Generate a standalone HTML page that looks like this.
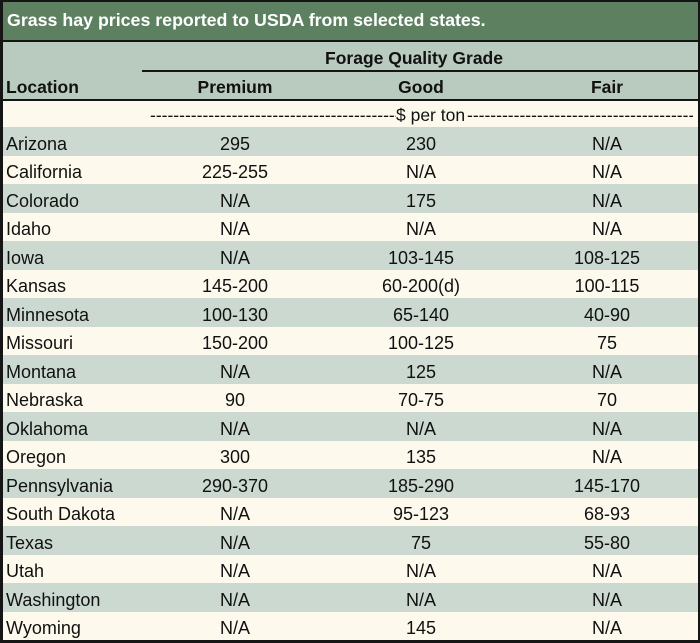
<!DOCTYPE html>
<html>
<head>
<meta charset="utf-8">
<style>
  html, body { margin:0; padding:0; }
  body { width:700px; height:643px; position:relative; overflow:hidden; background:#fdfaed;
         font-family:"Liberation Sans", Arial, sans-serif; color:#111; }
  .abs { position:absolute; }
  .title { left:0; top:0; width:700px; height:41px; background:#5d8061; }
  .title span { position:absolute; left:7px; top:9px; font-size:17.8px; font-weight:bold; color:#fff; line-height:22px; white-space:nowrap; }
  .hdr { left:0; top:42px; width:700px; height:58px; background:#b9cbbe; }
  .line { background:#151515; }
  .hb { font-weight:bold; font-size:17.5px; line-height:22px; white-space:nowrap; position:absolute; }
  .row { position:absolute; left:0; width:700px; height:28.5px; }
  .g { background:#cbd9d1; }
  .c { background:#fdfaed; }
  .cell { position:absolute; top:0; height:28.5px; line-height:28.5px; padding-top:2.5px; box-sizing:border-box; font-size:18px; white-space:nowrap; }
  .loc { left:6px; }
  .p { left:155px; width:160px; text-align:center; }
  .gd { left:341px; width:160px; text-align:center; }
  .f { left:527px; width:160px; text-align:center; }
  .dash { position:absolute; top:102px; height:26px; line-height:26px; font-size:17.5px; overflow:hidden; white-space:nowrap; }
</style>
</head>
<body>
  <div class="abs title"><span>Grass hay prices reported to USDA from selected states.</span></div>
  <div class="abs line" style="left:0;top:40px;width:700px;height:2px;"></div>
  <div class="abs hdr"></div>
  <div class="abs line" style="left:142px;top:70px;width:558px;height:2px;"></div>
  <div class="hb" style="left:314px;top:47px;width:200px;text-align:center;">Forage Quality Grade</div>
  <div class="hb" style="left:6px;top:76px;">Location</div>
  <div class="hb" style="left:155px;top:76px;width:160px;text-align:center;">Premium</div>
  <div class="hb" style="left:341px;top:76px;width:160px;text-align:center;">Good</div>
  <div class="hb" style="left:527px;top:76px;width:160px;text-align:center;">Fair</div>
  <div class="abs line" style="left:0;top:99px;width:700px;height:2px;"></div>

  <div class="abs" style="left:0;top:101px;width:700px;height:26px;background:#fdfaed;"></div>
  <div class="dash" style="left:150px;width:246px;">----------------------------------------------------------------------------------</div>
  <div class="dash" style="left:396px;width:72px;">$ per ton</div>
  <div class="dash" style="left:467px;width:226px;">----------------------------------------------------------------------------------</div>

  <div class="row g" style="top:127px;"><div class="cell loc">Arizona</div><div class="cell p">295</div><div class="cell gd">230</div><div class="cell f">N/A</div></div>
  <div class="row c" style="top:155.5px;"><div class="cell loc">California</div><div class="cell p">225-255</div><div class="cell gd">N/A</div><div class="cell f">N/A</div></div>
  <div class="row g" style="top:184px;"><div class="cell loc">Colorado</div><div class="cell p">N/A</div><div class="cell gd">175</div><div class="cell f">N/A</div></div>
  <div class="row c" style="top:212.5px;"><div class="cell loc">Idaho</div><div class="cell p">N/A</div><div class="cell gd">N/A</div><div class="cell f">N/A</div></div>
  <div class="row g" style="top:241px;"><div class="cell loc">Iowa</div><div class="cell p">N/A</div><div class="cell gd">103-145</div><div class="cell f">108-125</div></div>
  <div class="row c" style="top:269.5px;"><div class="cell loc">Kansas</div><div class="cell p">145-200</div><div class="cell gd">60-200(d)</div><div class="cell f">100-115</div></div>
  <div class="row g" style="top:298px;"><div class="cell loc">Minnesota</div><div class="cell p">100-130</div><div class="cell gd">65-140</div><div class="cell f">40-90</div></div>
  <div class="row c" style="top:326.5px;"><div class="cell loc">Missouri</div><div class="cell p">150-200</div><div class="cell gd">100-125</div><div class="cell f">75</div></div>
  <div class="row g" style="top:355px;"><div class="cell loc">Montana</div><div class="cell p">N/A</div><div class="cell gd">125</div><div class="cell f">N/A</div></div>
  <div class="row c" style="top:383.5px;"><div class="cell loc">Nebraska</div><div class="cell p">90</div><div class="cell gd">70-75</div><div class="cell f">70</div></div>
  <div class="row g" style="top:412px;"><div class="cell loc">Oklahoma</div><div class="cell p">N/A</div><div class="cell gd">N/A</div><div class="cell f">N/A</div></div>
  <div class="row c" style="top:440.5px;"><div class="cell loc">Oregon</div><div class="cell p">300</div><div class="cell gd">135</div><div class="cell f">N/A</div></div>
  <div class="row g" style="top:469px;"><div class="cell loc">Pennsylvania</div><div class="cell p">290-370</div><div class="cell gd">185-290</div><div class="cell f">145-170</div></div>
  <div class="row c" style="top:497.5px;"><div class="cell loc">South Dakota</div><div class="cell p">N/A</div><div class="cell gd">95-123</div><div class="cell f">68-93</div></div>
  <div class="row g" style="top:526px;"><div class="cell loc">Texas</div><div class="cell p">N/A</div><div class="cell gd">75</div><div class="cell f">55-80</div></div>
  <div class="row c" style="top:554.5px;"><div class="cell loc">Utah</div><div class="cell p">N/A</div><div class="cell gd">N/A</div><div class="cell f">N/A</div></div>
  <div class="row g" style="top:583px;"><div class="cell loc">Washington</div><div class="cell p">N/A</div><div class="cell gd">N/A</div><div class="cell f">N/A</div></div>
  <div class="row c" style="top:611.5px;"><div class="cell loc">Wyoming</div><div class="cell p">N/A</div><div class="cell gd">145</div><div class="cell f">N/A</div></div>

  <!-- outer border -->
  <div class="abs line" style="left:0;top:0;width:700px;height:2px;"></div>
  <div class="abs line" style="left:0;top:0;width:3px;height:643px;"></div>
  <div class="abs line" style="left:698px;top:0;width:2px;height:643px;"></div>
  <div class="abs line" style="left:0;top:640px;width:700px;height:3px;"></div>
</body>
</html>
